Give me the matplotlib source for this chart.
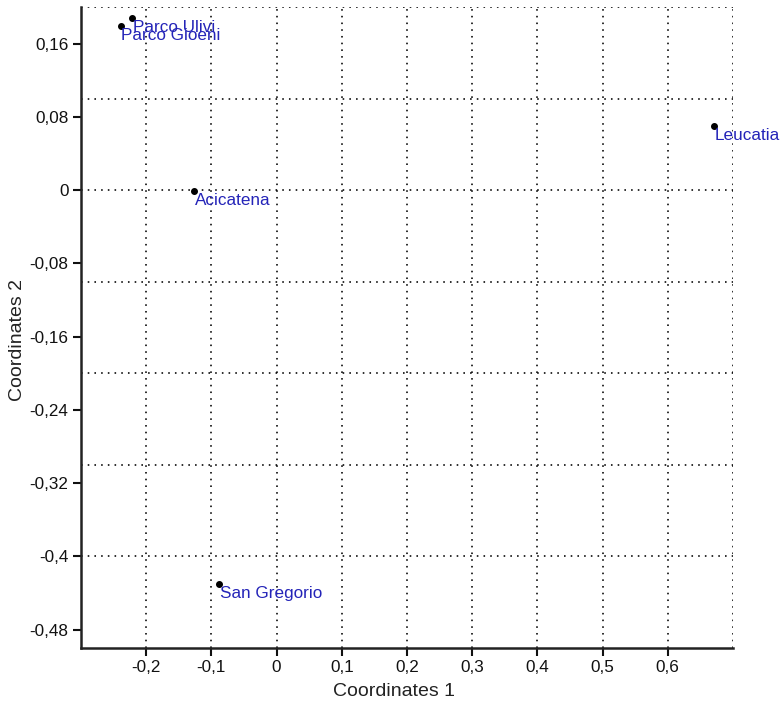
import numpy as np
import matplotlib.pyplot as plt
from matplotlib.ticker import FixedLocator, FixedFormatter

plt.rcParams['font.family'] = ['Liberation Sans', 'DejaVu Sans']

# site scores on the first two coordinates
sites = ["Parco Ulivi", "Parco Gioeni", "Acicatena", "Leucatia", "San Gregorio"]
coord1 = [-0.221, -0.239, -0.126, 0.671, -0.088]
coord2 = [0.188, 0.179, -0.001, 0.070, -0.430]

xticks = [-0.2, -0.1, 0, 0.1, 0.2, 0.3, 0.4, 0.5, 0.6]
xticklabels = ["-0,2", "-0,1", "0", "0,1", "0,2", "0,3", "0,4", "0,5", "0,6"]
yticks = [0.16, 0.08, 0, -0.08, -0.16, -0.24, -0.32, -0.4, -0.48]
yticklabels = ["0,16", "0,08", "0", "-0,08", "-0,16", "-0,24", "-0,32", "-0,4", "-0,48"]

fig = plt.figure(figsize=(7.81, 7.13), dpi=100)
ax = fig.add_axes([0.1037, 0.0912, 0.8348, 0.899])
ax.set_xlim(-0.3, 0.7)
ax.set_ylim(-0.5, 0.2)

# dotted grid every 0.1 on both axes, independent of tick spacing
dots = dict(color="black", lw=1.15, ls=(0, (1, 3.2)), zorder=1)
for gx in np.arange(-0.2, 0.71, 0.1):
    ax.axvline(gx, **dots)
for gy in np.arange(-0.4, 0.21, 0.1):
    ax.axhline(gy, **dots)

ax.scatter(coord1, coord2, s=16, color="black", zorder=3)
for name, x, y in zip(sites, coord1, coord2):
    ax.annotate(name, (x, y), xytext=(0.5, -1.5), textcoords="offset points",
                ha="left", va="top", color="#2424b8", fontsize=12.3, zorder=4)

ax.xaxis.set_major_locator(FixedLocator(xticks))
ax.xaxis.set_major_formatter(FixedFormatter(xticklabels))
ax.yaxis.set_major_locator(FixedLocator(yticks))
ax.yaxis.set_major_formatter(FixedFormatter(yticklabels))
ax.tick_params(direction="out", length=6, width=1.5, labelsize=12.3,
               colors="#111111", pad=3)

for side in ("top", "right"):
    ax.spines[side].set_visible(False)
for side in ("left", "bottom"):
    ax.spines[side].set_linewidth(1.8)
    ax.spines[side].set_color("#222222")

ax.set_xlabel("Coordinates 1", fontsize=14, labelpad=6, color="#222222")
ax.set_ylabel("Coordinates 2", fontsize=14, labelpad=4, color="#222222")
ax.xaxis.set_label_coords(0.48, -0.055)
ax.yaxis.set_label_coords(-0.085, 0.48)

fig.savefig("out.png", dpi=100)
